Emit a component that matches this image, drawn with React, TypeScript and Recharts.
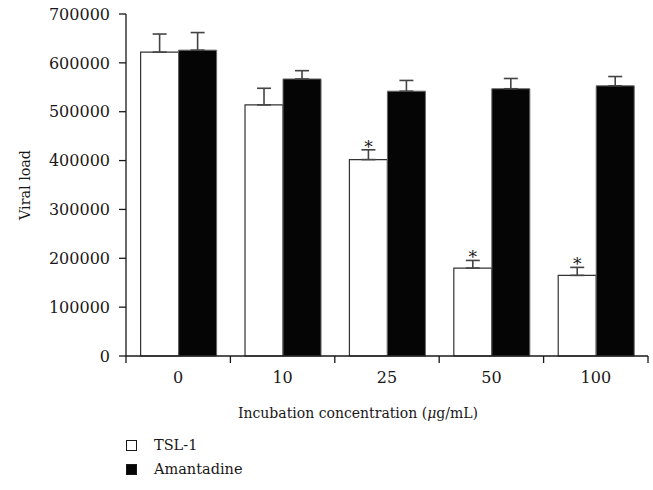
import React from 'react';
import { BarChart, Bar, XAxis, YAxis, ErrorBar, Legend, LabelList, Label } from 'recharts';

const concentrations = ['0', '10', '25', '50', '100'];
const tslValues = [622000, 514000, 402000, 180000, 165000];
const tslErrors = [37000, 34000, 20000, 15600, 16400];
const amantadineValues = [626000, 567000, 542000, 547000, 553000];
const amantadineErrors = [36000, 17000, 22000, 21000, 19000];
const significance = ['', '', '*', '*', '*'];
const yTicks = [0, 100000, 200000, 300000, 400000, 500000, 600000, 700000];

const data = concentrations.map((c, i) => ({
  conc: c,
  tsl: tslValues[i],
  tslErr: tslErrors[i],
  amant: amantadineValues[i],
  amantErr: amantadineErrors[i],
  sig: significance[i],
}));

const W = 653;
const H = 490;
const MARGIN = { top: 14, right: 5, left: 0, bottom: 18 };
const Y_AXIS_W = 126;
const PLOT_BOTTOM = 356;
const BAND = (W - MARGIN.right - MARGIN.left - Y_AXIS_W) / concentrations.length;
const FONT = '"DejaVu Serif", "Liberation Serif", "Noto Serif", "FreeSerif", Times, serif';
const INK = '#1a1718';

const XTick = (props: any) => {
  const { x, payload, index } = props;
  const last = index === concentrations.length - 1;
  return (
    <g>
      <line x1={x - BAND / 2} y1={PLOT_BOTTOM} x2={x - BAND / 2} y2={PLOT_BOTTOM + 7} stroke={INK} strokeWidth={1.3} />
      {last && (
        <line x1={x + BAND / 2} y1={PLOT_BOTTOM} x2={x + BAND / 2} y2={PLOT_BOTTOM + 7} stroke={INK} strokeWidth={1.3} />
      )}
      <text x={x} y={PLOT_BOTTOM + 27} textAnchor="middle" fontFamily={FONT} fontSize={16} fill={INK}>
        {payload.value}
      </text>
    </g>
  );
};

const XLabel = (props: any) => {
  const vb = props.viewBox || {};
  const cx = vb.x + vb.width / 2 - 29;
  return (
    <text x={cx} y={PLOT_BOTTOM + 62} textAnchor="middle" fontFamily={FONT} fontSize={14} fill={INK}>
      Incubation concentration (<tspan fontStyle="italic">μ</tspan>g/mL)
    </text>
  );
};

const StarLabel = (props: any) => {
  const { x, y, width, height, value, index } = props;
  if (!value) return null;
  const perUnit = Number(height) / tslValues[index];
  const errTop = Number(y) - tslErrors[index] * perUnit;
  return (
    <text x={Number(x) + Number(width) / 2} y={errTop + 3} textAnchor="middle" fontFamily={FONT} fontSize={17} fill={INK}>
      {value}
    </text>
  );
};

const LegendContent = () => (
  <div style={{ width: 220, height: 50, fontFamily: FONT, fontSize: 14.5, color: INK }}>
    {[
      { name: 'TSL-1', fill: '#fff' },
      { name: 'Amantadine', fill: '#050505' },
    ].map((it) => (
      <div key={it.name} style={{ display: 'flex', alignItems: 'center', height: 24 }}>
        <span
          style={{
            display: 'inline-block',
            width: 11,
            height: 11,
            boxSizing: 'border-box',
            border: `1px solid ${INK}`,
            background: it.fill,
            marginRight: 17,
          }}
        />
        <span>{it.name}</span>
      </div>
    ))}
  </div>
);

export default function App() {
  return (
    <div style={{ position: 'absolute', left: 0, top: 0, background: '#fff' }}>
      <BarChart width={W} height={H} data={data} margin={MARGIN} barCategoryGap="14%" barGap={0}>
        <XAxis
          dataKey="conc"
          height={66}
          interval={0}
          tickLine={false}
          axisLine={{ stroke: INK, strokeWidth: 1.3 }}
          tick={<XTick />}
        >
          <Label content={XLabel} />
        </XAxis>
        <YAxis
          width={Y_AXIS_W}
          domain={[0, 700000]}
          ticks={yTicks}
          interval={0}
          tickSize={7}
          tickMargin={9}
          axisLine={{ stroke: INK, strokeWidth: 1.3 }}
          tickLine={{ stroke: INK, strokeWidth: 1.3 }}
          tick={{ fill: INK, fontFamily: FONT, fontSize: 16 }}
        >
          <Label
            value="Viral load"
            angle={-90}
            position="insideLeft"
            offset={25}
            style={{ textAnchor: 'middle', fontFamily: FONT, fontSize: 14.3, fill: INK }}
          />
        </YAxis>
        <Legend content={LegendContent} wrapperStyle={{ left: 126, top: 433, bottom: 'auto', width: 220 }} />
        <Bar dataKey="tsl" name="TSL-1" fill="#ffffff" stroke="#333" strokeWidth={1.2} isAnimationActive={false}>
          <ErrorBar dataKey={(d: any) => [0, d.tslErr]} width={7} stroke="#444" strokeWidth={1.6} />
          <LabelList dataKey="sig" content={StarLabel} />
        </Bar>
        <Bar dataKey="amant" name="Amantadine" fill="#050505" stroke="#666" strokeWidth={1} isAnimationActive={false}>
          <ErrorBar dataKey={(d: any) => [0, d.amantErr]} width={7} stroke="#444" strokeWidth={1.6} />
        </Bar>
      </BarChart>
    </div>
  );
}
